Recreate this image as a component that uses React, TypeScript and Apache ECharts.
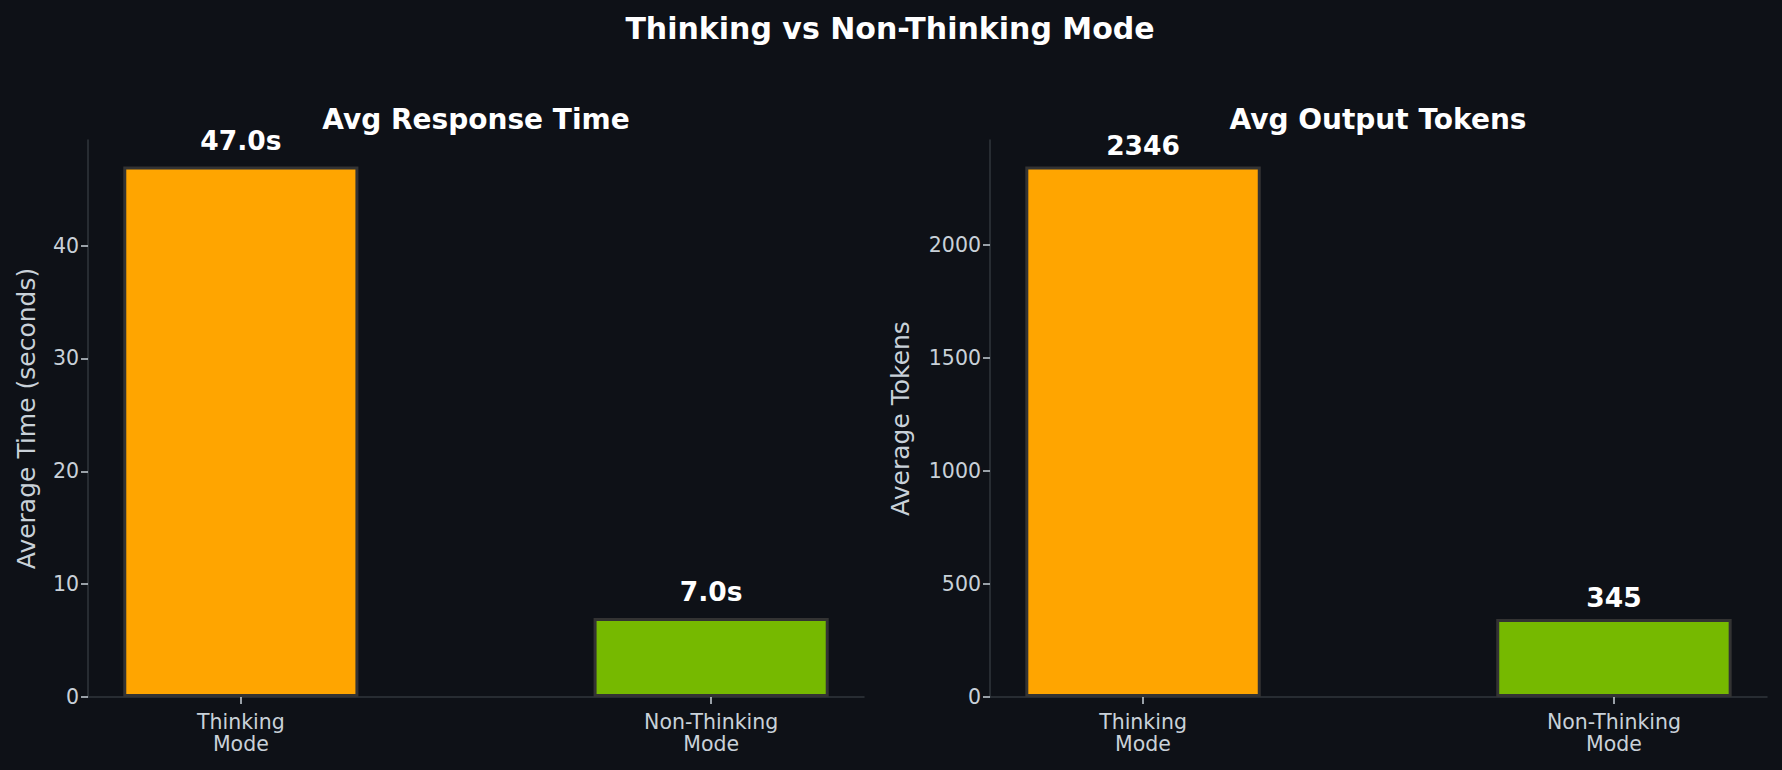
import React, { useEffect, useRef } from "react";
import * as echarts from "echarts";

// categories and values
const categories = ["Thinking\nMode", "Non-Thinking\nMode"];
const barColors = ["#ffa500", "#76b900"];
const avgTimeSeconds = [47.0, 7.0];
const avgTokens = [2346, 345];
const timeTicks = [0, 10, 20, 30, 40];
const tokenTicks = [0, 500, 1000, 1500, 2000];

const FONT = "DejaVu Sans";
const BG = "#0e1117";
const TEXT = "#c9d1d9";
const SPINE = "#30363d";

const App: React.FC = () => {
  const chartRef = useRef<HTMLDivElement>(null);

  useEffect(() => {
    const chart = echarts.init(chartRef.current, null, { renderer: "svg" });

    const xAxisFor = (gridIndex: number) => ({
      type: "value" as const,
      gridIndex,
      min: -0.325,
      max: 1.325,
      splitLine: { show: false },
      axisLine: { show: true, onZero: false, lineStyle: { color: SPINE, width: 1.5 } },
      axisTick: {
        show: true,
        customValues: [0, 1],
        length: 7,
        lineStyle: { color: TEXT, width: 1.5 },
      },
      axisLabel: {
        customValues: [0, 1],
        formatter: (v: number) => categories[Math.round(v)] ?? "",
        color: TEXT,
        fontFamily: FONT,
        fontSize: 20.5,
        lineHeight: 22,
        margin: 14,
      },
    });

    const yAxisFor = (
      gridIndex: number,
      max: number,
      ticks: number[],
      name: string,
      nameGap: number
    ) => ({
      type: "value" as const,
      gridIndex,
      min: 0,
      max,
      name,
      nameLocation: "middle" as const,
      nameGap,
      nameTextStyle: { color: TEXT, fontFamily: FONT, fontSize: 25 },
      splitLine: { show: false },
      axisLine: { show: true, onZero: false, lineStyle: { color: SPINE, width: 1.5 } },
      axisTick: {
        show: true,
        customValues: ticks,
        length: 7,
        lineStyle: { color: TEXT, width: 1.5 },
      },
      axisLabel: {
        customValues: ticks,
        formatter: (v: number) => String(v),
        color: TEXT,
        fontFamily: FONT,
        fontSize: 20.5,
        margin: 9,
      },
    });

    const barSeries = (
      idx: number,
      values: number[],
      fmt: (v: number) => string,
      distance: number
    ) => ({
      type: "bar" as const,
      xAxisIndex: idx,
      yAxisIndex: idx,
      barWidth: "50%",
      data: values.map((v, i) => ({
        value: [i, v],
        itemStyle: { color: barColors[i] },
      })),
      itemStyle: { borderColor: "#333333", borderWidth: 3 },
      label: {
        show: true,
        position: "top" as const,
        distance,
        formatter: (p: any) => fmt(p.value[1]),
        color: "#ffffff",
        fontFamily: FONT,
        fontWeight: "bold" as const,
        fontSize: 26.5,
      },
    });

    chart.setOption({
      animation: false,
      backgroundColor: BG,
      textStyle: { fontFamily: FONT },
      title: [
        {
          text: "Thinking vs Non-Thinking Mode",
          left: 890,
          textAlign: "center",
          top: 13,
          padding: 0,
          textStyle: { color: "#ffffff", fontFamily: FONT, fontWeight: "bold", fontSize: 30 },
        },
        {
          text: "Avg Response Time",
          left: 476,
          textAlign: "center",
          top: 105,
          padding: 0,
          textStyle: { color: "#ffffff", fontFamily: FONT, fontWeight: "bold", fontSize: 28 },
        },
        {
          text: "Avg Output Tokens",
          left: 1378,
          textAlign: "center",
          top: 105,
          padding: 0,
          textStyle: { color: "#ffffff", fontFamily: FONT, fontWeight: "bold", fontSize: 28 },
        },
      ],
      grid: [
        { left: 88, top: 140, width: 776, height: 557 },
        { left: 990, top: 140, width: 777, height: 557 },
      ],
      xAxis: [xAxisFor(0), xAxisFor(1)],
      yAxis: [
        yAxisFor(0, Math.max(...avgTimeSeconds) * 1.05, timeTicks, "Average Time (seconds)", 49),
        yAxisFor(1, Math.max(...avgTokens) * 1.05, tokenTicks, "Average Tokens", 77),
      ],
      series: [
        barSeries(0, avgTimeSeconds, (v) => `${v.toFixed(1)}s`, 13),
        barSeries(1, avgTokens, (v) => `${Math.round(v)}`, 8),
      ],
    });

    return () => {
      chart.dispose();
    };
  }, []);

  return (
    <div
      ref={chartRef}
      style={{ position: "fixed", left: 0, top: 0, width: 1782, height: 770 }}
    />
  );
};

export default App;
